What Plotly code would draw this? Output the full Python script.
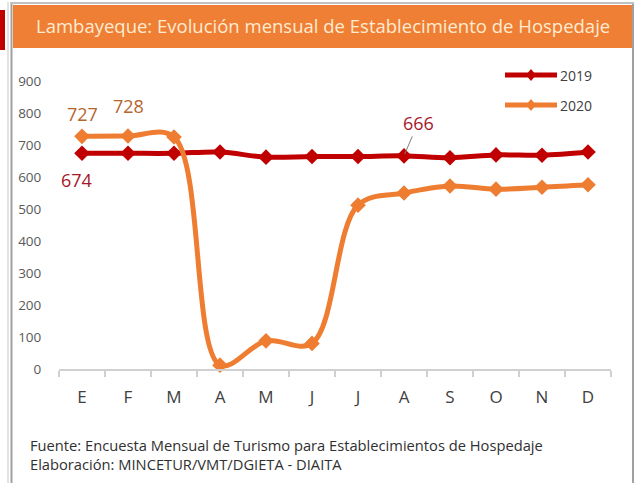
import plotly.graph_objects as go

# data
meses = ["E", "F", "M", "A", "M", "J", "J", "A", "S", "O", "N", "D"]
hosp_2019 = [674, 674, 674, 678, 662, 664, 664, 666, 660, 669, 668, 678]
hosp_2020 = [727, 728, 725, 12, 88, 80, 512, 550, 572, 562, 568, 576]
yticks = [0, 100, 200, 300, 400, 500, 600, 700, 800, 900]

titulo = "Lambayeque: Evolución mensual de Establecimiento de Hospedaje"
fuente = ("Fuente: Encuesta Mensual de Turismo para Establecimientos de Hospedaje<br>"
          "Elaboración: MINCETUR/VMT/DGIETA - DIAITA")

ROJO = "#C00000"
NARANJA = "#EE7D31"
FONT = "Open Sans"

W, H = 638, 483
L, R, T, B = 59, 27, 81, 114
PW, PH = W - L - R, H - T - B


def px(x):
    return (x - L) / PW


def py(y):
    return (H - B - y) / PH


x = list(range(len(meses)))

fig = go.Figure()
fig.add_trace(go.Scatter(x=x, y=hosp_2019, name="2019", mode="lines+markers",
                         line=dict(color=ROJO, width=5, shape="spline"),
                         marker=dict(symbol="diamond", size=12, color=ROJO),
                         cliponaxis=False, showlegend=False))
fig.add_trace(go.Scatter(x=x, y=hosp_2020, name="2020", mode="lines+markers",
                         line=dict(color=NARANJA, width=5, shape="spline", smoothing=1),
                         marker=dict(symbol="diamond", size=12, color=NARANJA),
                         cliponaxis=False, showlegend=False))

# frame, banner
shapes = [
    dict(type="rect", xref="paper", yref="paper", x0=px(0), x1=px(5), y0=py(50), y1=py(10),
         fillcolor=ROJO, line_width=0),
    dict(type="rect", xref="paper", yref="paper", x0=px(7.5), x1=px(8.5), y0=py(483), y1=py(2),
         fillcolor="#C8C8C8", line_width=0),
    dict(type="rect", xref="paper", yref="paper", x0=px(10.5), x1=px(12.5), y0=py(483), y1=py(2),
         fillcolor="#A0A0A0", line_width=0),
    dict(type="rect", xref="paper", yref="paper", x0=px(632), x1=px(634), y0=py(483), y1=py(2),
         fillcolor="#A0A0A0", line_width=0),
    dict(type="rect", xref="paper", yref="paper", x0=px(10.5), x1=px(634), y0=py(4), y1=py(2),
         fillcolor="#C0C0C0", line_width=0),
    dict(type="rect", xref="paper", yref="paper", x0=px(13), x1=px(632), y0=py(48), y1=py(5),
         fillcolor="#EF7F34", line_width=0),
]

# legend drawn by hand (long line keys like the original)
leyenda = [("2019", ROJO, 75), ("2020", NARANJA, 105)]
annotations = []
for nombre, color, yy in leyenda:
    shapes.append(dict(type="line", xref="paper", yref="paper", x0=px(505), x1=px(557),
                       y0=py(yy), y1=py(yy), line=dict(color=color, width=5)))
    cx, cy = 531, yy
    shapes.append(dict(type="path", xref="paper", yref="paper",
                       path=f"M {px(cx-5)},{py(cy)} L {px(cx)},{py(cy-6)} L {px(cx+5)},{py(cy)} L {px(cx)},{py(cy+6)} Z",
                       fillcolor=color, line_width=0))
    annotations.append(dict(xref="paper", yref="paper", x=px(558), y=py(yy), text=nombre,
                            showarrow=False, xanchor="left", yanchor="middle",
                            font=dict(family=FONT, size=14, color="#404040")))

annotations += [
    dict(xref="paper", yref="paper", x=px(322.5), y=py(26), text=titulo, showarrow=False,
         xanchor="center", yanchor="middle", font=dict(family=FONT, size=18.5, color="#FFEBD2")),
    dict(xref="paper", yref="paper", x=px(28), y=py(454), text=fuente, showarrow=False,
         xanchor="left", yanchor="middle", align="left",
         font=dict(family=FONT, size=14.7, color="#303030")),
    # data labels
    dict(x=0, y=hosp_2020[0], text=str(hosp_2020[0]), showarrow=False, yshift=22, xshift=0,
         font=dict(family=FONT, size=18, color="#B5652C")),
    dict(x=1, y=hosp_2020[1], text=str(hosp_2020[1]), showarrow=False, yshift=30,
         font=dict(family=FONT, size=18, color="#B5652C")),
    dict(x=0, y=hosp_2019[0], text=str(hosp_2019[0]), showarrow=False, yshift=-27, xshift=-6,
         font=dict(family=FONT, size=18, color="#A5182A")),
    dict(x=7, y=hosp_2019[7], text=str(hosp_2019[7]), showarrow=True, ax=14, ay=-33,
         arrowhead=0, arrowwidth=1, arrowcolor="#808080", standoff=2,
         font=dict(family=FONT, size=18, color="#A5182A")),
]

fig.update_layout(
    width=W, height=H,
    margin=dict(l=L, r=R, t=T, b=B),
    paper_bgcolor="white", plot_bgcolor="white",
    shapes=shapes, annotations=annotations,
    showlegend=False,
)
fig.update_xaxes(range=[-0.5, 11.5], tickvals=x, ticktext=meses, ticks="",
                 showgrid=False, zeroline=False, showline=True, linecolor="#D0D0D0", linewidth=1.5,
                 tickfont=dict(family=FONT, size=17, color="#404040"), ticklabelstandoff=12,
                 minor=dict(tickmode="linear", tick0=-0.5, dtick=1, ticks="outside",
                            ticklen=6, tickcolor="#D0D0D0", tickwidth=1.5, showgrid=False))
fig.update_yaxes(range=[0, 900], tickvals=yticks, showgrid=False, zeroline=False, showline=False,
                 ticks="outside", ticklen=14, tickcolor="rgba(0,0,0,0)",
                 tickfont=dict(family=FONT, size=13.5, color="#595959"))

fig.write_html("out.html", config={"displayModeBar": False},
               post_script="document.body.style.margin='0';")
